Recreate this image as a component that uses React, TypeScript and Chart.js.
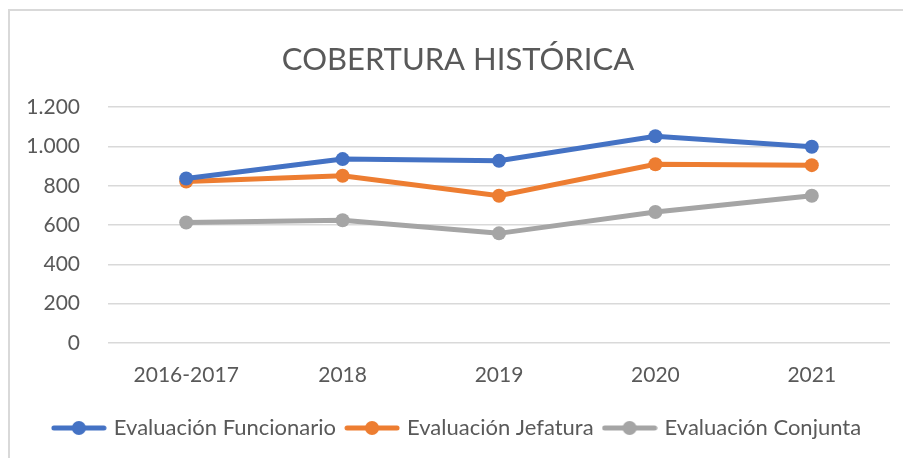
import React, { useEffect, useRef } from 'react';
import { Chart, registerables } from 'chart.js';

Chart.register(...registerables);

const categories = ['2016-2017', '2018', '2019', '2020', '2021'];
const funcionario = [837, 936, 927, 1052, 999];
const jefatura = [822, 851, 749, 910, 905];
const conjunta = [613, 625, 558, 667, 749];
const seriesNames = ['Evaluación Funcionario', 'Evaluación Jefatura', 'Evaluación Conjunta'];
const seriesColors = ['#4472C4', '#ED7D31', '#A5A5A5'];
const yTickValues = [0, 200, 400, 600, 800, 1000, 1200];
const yTickLabels = ['0', '200', '400', '600', '800', '1.000', '1.200'];
const titleText = 'COBERTURA HISTÓRICA';

const FONT = "Lato, 'Open Sans', sans-serif";
const TEXT = '#595959';

function makeLegendMarker(color: string): HTMLCanvasElement {
  const c = document.createElement('canvas');
  c.width = 56;
  c.height = 16;
  const ctx = c.getContext('2d')!;
  ctx.strokeStyle = color;
  ctx.lineWidth = 5;
  ctx.lineCap = 'round';
  ctx.beginPath();
  ctx.moveTo(3, 8);
  ctx.lineTo(53, 8);
  ctx.stroke();
  ctx.fillStyle = color;
  ctx.beginPath();
  ctx.arc(28, 8, 7, 0, Math.PI * 2);
  ctx.fill();
  return c;
}

export default function App() {
  const ref = useRef<HTMLCanvasElement | null>(null);

  useEffect(() => {
    if (!ref.current) return;
    const markers = seriesColors.map(makeLegendMarker);
    const data = [funcionario, jefatura, conjunta];
    const chart = new Chart(ref.current, {
      type: 'line',
      data: {
        labels: categories,
        datasets: data.map((d, i) => ({
          label: seriesNames[i],
          data: d,
          borderColor: seriesColors[i],
          backgroundColor: seriesColors[i],
          pointBackgroundColor: seriesColors[i],
          pointBorderWidth: 0,
          pointRadius: 7,
          pointHoverRadius: 7,
          borderWidth: 5,
          tension: 0,
          fill: false,
        })),
      },
      options: {
        responsive: false,
        animation: false,
        events: [],
        layout: { padding: { left: 16, right: 13, top: 0, bottom: 9 } },
        scales: {
          x: {
            offset: true,
            grid: { display: false, drawTicks: false },
            border: { display: false },
            ticks: { font: { family: FONT, size: 21 }, color: TEXT, padding: 20 },
            afterFit: (scale: any) => {
              scale.height = 62;
            },
          },
          y: {
            min: 0,
            max: 1200,
            afterBuildTicks: (scale: any) => {
              scale.ticks = yTickValues.map((v) => ({ value: v }));
            },
            grid: { color: '#D9D9D9', lineWidth: 1.5, drawTicks: false },
            border: { display: false },
            ticks: {
              font: { family: FONT, size: 21 },
              color: TEXT,
              padding: 28,
              callback: (v: any) => {
                const idx = yTickValues.indexOf(Number(v));
                return idx >= 0 ? yTickLabels[idx] : '';
              },
            },
            afterFit: (scale: any) => {
              scale.width = 82;
            },
          },
        },
        plugins: {
          tooltip: { enabled: false },
          title: {
            display: true,
            text: titleText,
            color: TEXT,
            font: { family: FONT, size: 31, weight: 'normal' },
            padding: { top: 30, bottom: 29 },
          },
          legend: {
            display: true,
            position: 'bottom',
            labels: {
              usePointStyle: true,
              pointStyleWidth: 48,
              color: TEXT,
              font: { family: FONT, size: 22 },
              padding: 12,
              generateLabels: (ch: any) => {
                const base = Chart.defaults.plugins.legend.labels.generateLabels(ch);
                return base.map((item: any, i: number) => ({
                  ...item,
                  pointStyle: markers[i],
                }));
              },
            },
          },
        },
      } as any,
    });
    return () => chart.destroy();
  }, []);

  return (
    <div
      style={{
        position: 'absolute',
        left: 8,
        top: 9,
        width: 893,
        height: 447,
        borderLeft: '2px solid #D9D9D9',
        borderTop: '2px solid #D9D9D9',
        background: '#fff',
      }}
    >
      <canvas ref={ref} width={893} height={447} style={{ display: 'block' }} />
    </div>
  );
}
